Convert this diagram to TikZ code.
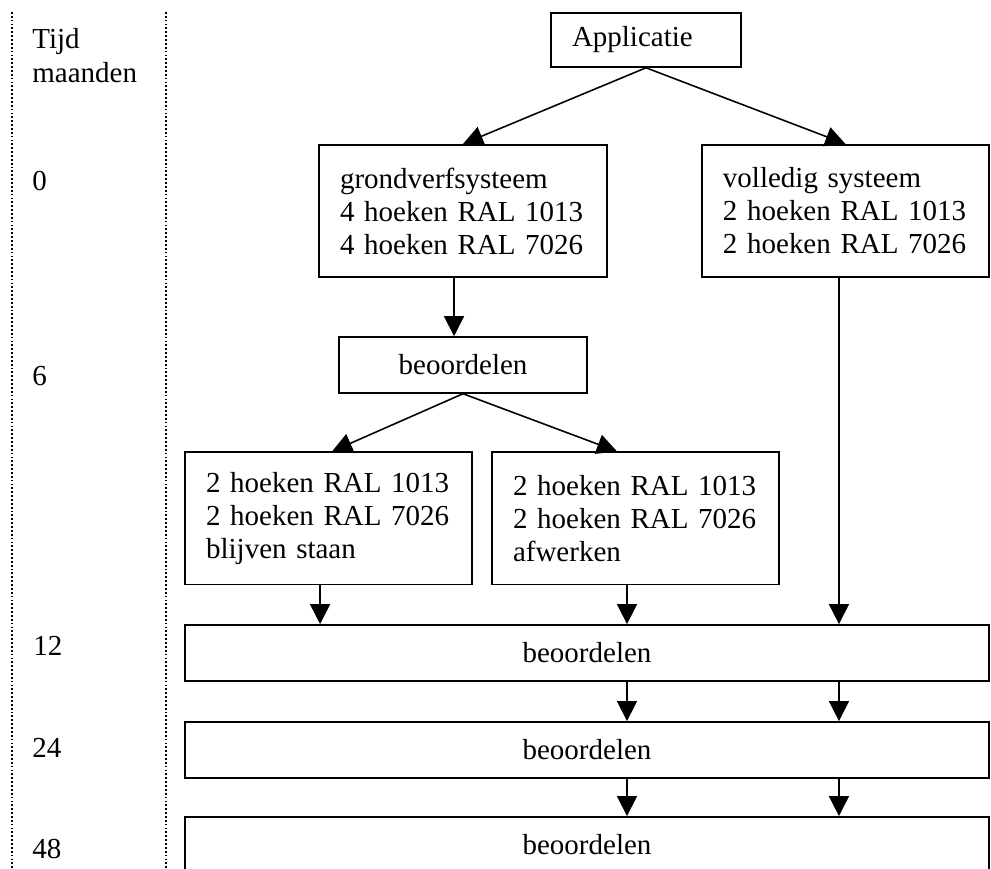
\documentclass[tikz,border=0pt]{standalone}
\usepackage{fontspec}
\setmainfont{Liberation Serif}
\usetikzlibrary{positioning, arrows.meta}

\begin{document}
\begin{tikzpicture}[
    x=0.02cm, y=-0.02cm, on grid,
    >={Triangle[length=0.4cm, width=0.4cm]},
    every node/.style={font=\fontsize{16.5}{18.8}\selectfont},
    box/.style={draw, line width=0.9pt, inner xsep=0.42cm, inner ysep=0pt, align=left},
    textbox/.style={box, text width=#1, minimum height=2.65cm},
    beoordeel/.style={draw, line width=0.9pt, minimum width=#1, minimum height=1.12cm, inner sep=0pt},
    pijl/.style={->, line width=0.9pt},
    maand/.style={anchor=base west, inner sep=0pt},
    tijdlijn/.style={line width=1.3pt, dash pattern=on 1pt off 1.2pt}
]
    \useasboundingbox (0,0) rectangle (991,869);

    % time column
    \draw[tijdlijn] (12,12) -- (12,875);
    \draw[tijdlijn] (166,12) -- (166,875);
    \node[maand] (tijd) at (32,48) {Tijd};
    \node[maand] (eenheid) at (32,82) {maanden};
    \node[maand] (t0) at (32,190) {0};
    \node[maand] (t6) at (32,385) {6};
    \node[maand] (t12) at (33,655) {12};
    \node[maand] (t24) at (32,757) {24};
    \node[maand] (t48) at (32,858) {48};

    % boxes
    \node[box, text width=2.96cm, minimum height=1.08cm] (app) at (646,40) {Applicatie};
    \node[textbox=4.92cm] (grond) [below left=3.42cm and 3.66cm of app]
        {grondverfsysteem\\4 hoeken RAL 1013\\4 hoeken RAL 7026};
    \node[textbox=4.9cm] (vol) [right=7.65cm of grond]
        {volledig systeem\\2 hoeken RAL 1013\\2 hoeken RAL 7026};
    \node[beoordeel=4.96cm] (b6) [below=3.08cm of grond] {beoordelen};
    \node[textbox=4.9cm] (blijf) [below left=3.07cm and 2.69cm of b6]
        {2 hoeken RAL 1013\\2 hoeken RAL 7026\\blijven staan};
    \node[textbox=4.9cm] (afw) [right=6.14cm of blijf]
        {2 hoeken RAL 1013\\2 hoeken RAL 7026\\afwerken};
    \node[beoordeel=16.08cm] (b12) [below right=2.69cm and 5.17cm of blijf] {beoordelen};
    \node[beoordeel=16.08cm] (b24) [below=1.94cm of b12] {beoordelen};
    \node[beoordeel=16.08cm] (b48) [below=1.9cm of b24] {beoordelen};

    \coordinate (colL) at ([xshift=-0.17cm]blijf.south);
    \coordinate (colA) at ([xshift=-0.17cm]afw.south);
    \coordinate (colB) at ([xshift=-0.13cm]vol.south);

    % arrows
    \draw[pijl] (app.south) -- (grond.north);
    \draw[pijl] (app.south) -- (vol.north);
    \draw[pijl] ([xshift=-0.18cm]grond.south) -- ([xshift=-0.18cm]b6.north);
    \draw[pijl] (b6.south) -- ([xshift=0.07cm]blijf.north);
    \draw[pijl] (b6.south) -- ([xshift=-0.37cm]afw.north);
    \draw[pijl] (colL) -- (colL |- b12.north);
    \draw[pijl] (colA) -- (colA |- b12.north);
    \draw[pijl] (colB) -- (colB |- b12.north);
    \draw[pijl] (b12.south -| colA) -- (b24.north -| colA);
    \draw[pijl] (b12.south -| colB) -- (b24.north -| colB);
    \draw[pijl] (b24.south -| colA) -- (b48.north -| colA);
    \draw[pijl] (b24.south -| colB) -- (b48.north -| colB);
\end{tikzpicture}
\end{document}
